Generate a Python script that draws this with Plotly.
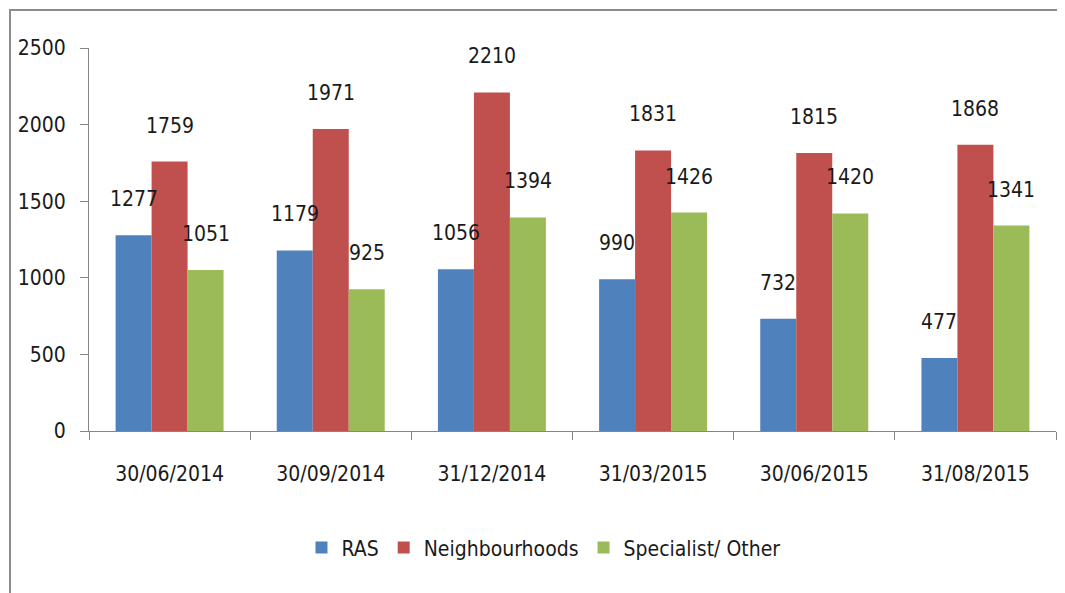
import plotly.graph_objects as go

categories = ["30/06/2014", "30/09/2014", "31/12/2014", "31/03/2015", "30/06/2015", "31/08/2015"]
ras = [1277, 1179, 1056, 990, 732, 477]
neighbourhoods = [1759, 1971, 2210, 1831, 1815, 1868]
specialist = [1051, 925, 1394, 1426, 1420, 1341]
y_ticks = [0, 500, 1000, 1500, 2000, 2500]

series = [
    ("RAS", ras, "#4F81BD"),
    ("Neighbourhoods", neighbourhoods, "#C0504D"),
    ("Specialist/ Other", specialist, "#9BBB59"),
]

FONT = "DejaVu Sans Condensed, Liberation Sans Narrow, sans-serif"
FS = 21

fig = go.Figure()
annotations = []
shifts = [-36, 0, 36]
for (name, vals, color), dx in zip(series, shifts):
    fig.add_trace(go.Bar(name=name, x=categories, y=vals, marker=dict(color=color, line=dict(width=0))))
    for c, v in zip(categories, vals):
        annotations.append(dict(x=c, y=v, text=str(v), showarrow=False, xshift=dx, yshift=36,
                                yanchor="middle", xanchor="center",
                                font=dict(family=FONT, size=FS, color="#1a1a1a")))

# page has an 8px body margin: figure is offset by 8px
fig.update_layout(
    width=1057, height=585,
    margin=dict(l=81, r=9, t=40, b=162, autoexpand=False),
    paper_bgcolor="white", plot_bgcolor="white",
    barmode="group", bargap=0.33, bargroupgap=0,
    font=dict(family=FONT, size=FS, color="#1a1a1a"),
    showlegend=True,
    legend=dict(orientation="h", x=0.47, y=-0.305, xanchor="center", yanchor="middle",
                font=dict(family=FONT, size=FS), itemclick=False),
    annotations=annotations,
    shapes=[dict(type="rect", xref="paper", yref="paper",
                 x0=(2 - 81) / 967, x1=(1070 - 81) / 967,
                 y0=(423 - 600) / 383, y1=(423 - 2) / 383,
                 line=dict(color="#8c8c8c", width=2), fillcolor="rgba(0,0,0,0)", layer="below")],
)
fig.update_xaxes(showline=True, linecolor="#868686", linewidth=1, ticks="outside", ticklen=8,
                 tickcolor="#868686", tickson="boundaries", showgrid=False, ticklabelstandoff=24,
                 automargin=False, tickfont=dict(family=FONT, size=FS))
fig.update_yaxes(range=[0, 2500], tickvals=y_ticks, showline=True, linecolor="#868686", linewidth=1,
                 ticks="outside", ticklen=8, tickcolor="#868686", showgrid=False, zeroline=False,
                 automargin=False, ticklabelstandoff=10, tickfont=dict(family=FONT, size=FS))

fig.write_html("out.html")
